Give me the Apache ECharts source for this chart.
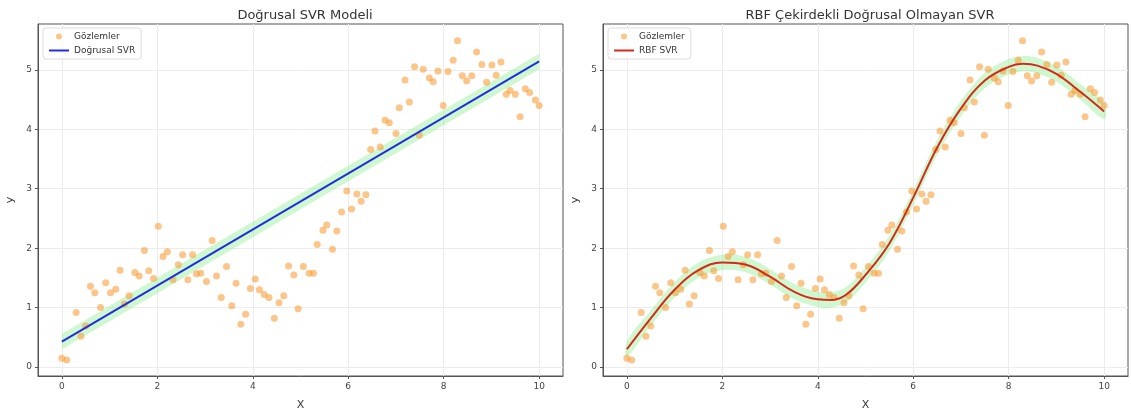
<!DOCTYPE html>
<html>
    <head>
        <meta charset="utf-8">
        <title>SVR</title>
        <script src="https://cdn.jsdelivr.net/npm/echarts@6/dist/echarts.min.js"></script>
        <style>
            body { margin: 0; background: #fff; }
            #chart1 { width: 1131px; height: 416px; }
        </style>
    </head>
    <body>
        <div id="chart1"></div>
    <script type="text/javascript">
        // gözlemler (iki grafikte de aynı)
        var obsX = [0.0, 0.1, 0.3, 0.4, 0.5, 0.6, 0.69, 0.81, 0.92, 1.02, 1.13, 1.22, 1.31, 1.41, 1.53, 1.62,
            1.73, 1.82, 1.92, 2.02, 2.12, 2.21, 2.33, 2.44, 2.53, 2.64, 2.74, 2.82, 2.91, 3.03, 3.15, 3.24,
            3.34, 3.45, 3.56, 3.65, 3.75, 3.85, 3.95, 4.05, 4.14, 4.24, 4.34, 4.45, 4.55, 4.65, 4.75, 4.86,
            4.95, 5.06, 5.18, 5.27, 5.35, 5.47, 5.55, 5.67, 5.76, 5.86, 5.97, 6.07, 6.18, 6.27, 6.37, 6.47,
            6.56, 6.67, 6.77, 6.86, 7.0, 7.07, 7.19, 7.28, 7.39, 7.49, 7.57, 7.7, 7.78, 7.88, 7.99, 8.09,
            8.2, 8.29, 8.39, 8.48, 8.59, 8.69, 8.8, 8.9, 9.01, 9.1, 9.2, 9.31, 9.39, 9.5, 9.6, 9.71,
            9.8, 9.92, 10.0];
        var obsY = [0.15, 0.12, 0.92, 0.52, 0.69, 1.36, 1.25, 1.0, 1.42, 1.25, 1.31, 1.63, 1.06, 1.2, 1.59, 1.53,
            1.96, 1.62, 1.49, 2.37, 1.86, 1.94, 1.47, 1.72, 1.89, 1.47, 1.89, 1.57, 1.58, 1.44, 2.13, 1.53,
            1.17, 1.69, 1.03, 1.41, 0.72, 0.89, 1.32, 1.48, 1.3, 1.22, 1.17, 0.82, 1.08, 1.2, 1.7, 1.55,
            0.98, 1.69, 1.58, 1.58, 2.06, 2.3, 2.39, 1.98, 2.29, 2.61, 2.96, 2.66, 2.91, 2.79, 2.9, 3.66,
            3.97, 3.7, 4.15, 4.11, 3.93, 4.36, 4.83, 4.46, 5.05, 3.9, 5.01, 4.86, 4.8, 4.98, 4.4, 4.97,
            5.16, 5.49, 4.9, 4.81, 4.9, 5.3, 5.09, 4.79, 5.08, 4.91, 5.13, 4.59, 4.65, 4.59, 4.21, 4.68,
            4.62, 4.49, 4.4];

        // doğrusal SVR tahmini
        var linX = [0, 10];
        var linY = [0.43, 5.14];

        // RBF SVR tahmini
        var rbfX = [0, 0.5, 1.0, 1.5, 2.0, 2.5, 3.0, 3.5, 4.0, 4.3, 4.6, 5.0, 5.5, 6.0, 6.5, 7.0, 7.5, 8.0, 8.3, 8.6, 9.0, 9.5, 10.0];
        var rbfY = [0.30, 0.82, 1.30, 1.63, 1.76, 1.72, 1.52, 1.27, 1.14, 1.13, 1.22, 1.55, 2.08, 2.85, 3.69, 4.35, 4.82, 5.05, 5.10, 5.07, 4.93, 4.63, 4.30];

        var EPS = 0.13;
        var xTicks = [0, 2, 4, 6, 8, 10];
        var yTicks = [0, 1, 2, 3, 4, 5];

        var FONT = 'DejaVu Sans';

        function pairs(xs, ys) {
            return xs.map(function (x, i) { return [x, ys[i]]; });
        }

        function xAxisFor(idx) {
            return {
                type: 'value', gridIndex: idx, min: -0.5, max: 10.5,
                name: 'X', nameLocation: 'middle', nameGap: 24,
                nameTextStyle: { fontFamily: FONT, fontSize: 11, color: '#333' },
                axisLine: { show: true, onZero: false, lineStyle: { color: '#555' } },
                axisTick: { show: true, length: 3, customValues: xTicks, lineStyle: { color: '#555' } },
                axisLabel: { customValues: xTicks, fontFamily: FONT, fontSize: 9, color: '#444', margin: 6 },
                splitLine: { show: true, lineStyle: { color: '#ececec', width: 1 } }
            };
        }
        function yAxisFor(idx) {
            return {
                type: 'value', gridIndex: idx, min: -0.15, max: 5.77,
                name: 'y', nameLocation: 'middle', nameGap: 22, nameRotate: 90,
                nameTextStyle: { fontFamily: FONT, fontSize: 11, color: '#333' },
                axisLine: { show: true, onZero: false, lineStyle: { color: '#555' } },
                axisTick: { show: true, length: 3, customValues: yTicks, lineStyle: { color: '#555' } },
                axisLabel: { customValues: yTicks, fontFamily: FONT, fontSize: 9, color: '#444', margin: 6 },
                splitLine: { show: true, lineStyle: { color: '#ececec', width: 1 } }
            };
        }

        // epsilon tüpü: custom seri ile çokgen
        function band(xs, ys, xi, smooth) {
            return {
                name: 'tup' + xi, type: 'custom', xAxisIndex: xi, yAxisIndex: xi, silent: true,
                data: [0],
                renderItem: function (params, api) {
                    var up = xs.map(function (x, i) { return api.coord([x, ys[i] + EPS]); });
                    var lo = xs.map(function (x, i) { return api.coord([x, ys[i] - EPS]); }).reverse();
                    return {
                        type: 'polygon',
                        shape: { points: up.concat(lo), smooth: smooth },
                        style: { fill: 'rgba(144,238,144,0.42)', stroke: 'none' }
                    };
                }
            };
        }

        var lineIcon = 'path://M0,0 L40,0 L40,4 L0,4 Z';
        var dotColor = 'rgba(250,150,40,0.68)';

        var myChart = echarts.init(document.getElementById('chart1'));
        var option = {
            animation: false,
            backgroundColor: '#fff',
            title: [
                { text: 'Doğrusal SVR Modeli', left: 300, top: 4, textAlign: 'center',
                  textStyle: { fontFamily: FONT, fontSize: 13, fontWeight: 'normal', color: '#333' } },
                { text: 'RBF Çekirdekli Doğrusal Olmayan SVR', left: 865, top: 4, textAlign: 'center',
                  textStyle: { fontFamily: FONT, fontSize: 13, fontWeight: 'normal', color: '#333' } }
            ],
            legend: [
                { left: 43, top: 28, orient: 'vertical', itemGap: 5, itemWidth: 20, itemHeight: 6,
                  padding: [4, 6, 4, 6], borderColor: '#ddd', borderWidth: 1, borderRadius: 3,
                  backgroundColor: 'rgba(255,255,255,0.8)',
                  textStyle: { fontFamily: FONT, fontSize: 9, color: '#333' },
                  data: [{ name: 'Gözlemler', icon: 'circle' }, { name: 'Doğrusal SVR', icon: lineIcon }] },
                { left: 608, top: 28, orient: 'vertical', itemGap: 5, itemWidth: 20, itemHeight: 6,
                  padding: [4, 6, 4, 6], borderColor: '#ddd', borderWidth: 1, borderRadius: 3,
                  backgroundColor: 'rgba(255,255,255,0.8)',
                  textStyle: { fontFamily: FONT, fontSize: 9, color: '#333' },
                  data: [{ name: 'Gözlemler', icon: 'circle' }, { name: 'RBF SVR', icon: lineIcon }] }
            ],
            grid: [
                { left: 38, top: 24, width: 525, height: 357, show: true, borderColor: '#555', borderWidth: 1 },
                { left: 603, top: 24, width: 525, height: 357, show: true, borderColor: '#555', borderWidth: 1 }
            ],
            xAxis: [xAxisFor(0), xAxisFor(1)],
            yAxis: [yAxisFor(0), yAxisFor(1)],
            series: [
                { name: 'Gözlemler', type: 'scatter', xAxisIndex: 0, yAxisIndex: 0,
                  data: pairs(obsX, obsY), symbolSize: 7,
                  itemStyle: { color: dotColor } },
                { name: 'Gözlemler', type: 'scatter', xAxisIndex: 1, yAxisIndex: 1,
                  data: pairs(obsX, obsY), symbolSize: 7,
                  itemStyle: { color: dotColor } },
                band(linX, linY, 0, 0),
                band(rbfX, rbfY, 1, 0.35),
                { name: 'Doğrusal SVR', type: 'line', xAxisIndex: 0, yAxisIndex: 0,
                  data: pairs(linX, linY), symbol: 'none', color: '#1f2fe0',
                  lineStyle: { color: '#1f2fe0', width: 2 } },
                { name: 'RBF SVR', type: 'line', xAxisIndex: 1, yAxisIndex: 1,
                  data: pairs(rbfX, rbfY), symbol: 'none', smooth: 0.4, color: '#d42a1c',
                  lineStyle: { color: '#d42a1c', width: 2 } }
            ]
        };
        myChart.setOption(option);
    </script>
    </body>
</html>
